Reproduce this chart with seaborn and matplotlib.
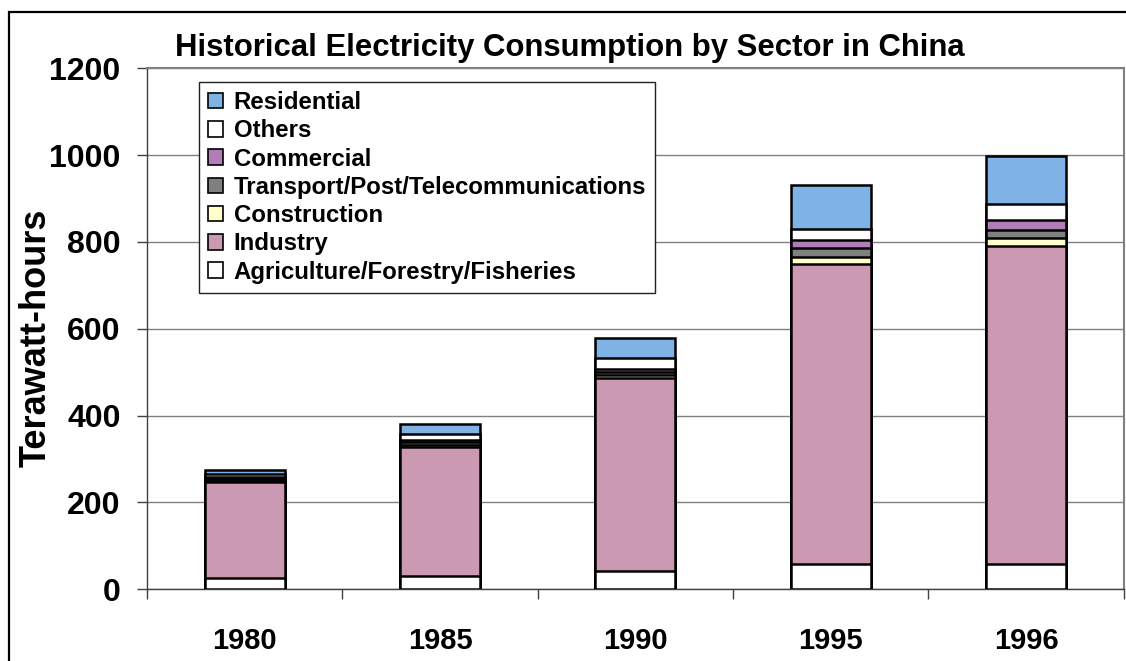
import matplotlib
matplotlib.use("Agg")
import matplotlib.pyplot as plt
from matplotlib.patches import Patch, Rectangle
import numpy as np
import pandas as pd
import seaborn as sns

years = ["1980", "1985", "1990", "1995", "1996"]

# Consumption by sector, terawatt-hours (stacked bottom to top)
agriculture = [26, 30, 41, 58, 58]
industry = [220, 298, 445, 691, 732]
construction = [4, 5, 7, 17, 18]
transport = [5, 6, 8, 20, 20]
commercial = [3, 5, 6, 18, 22]
others = [7, 14, 25, 25, 37]
residential = [10, 23, 46, 102, 112]

sectors = [
    "Agriculture/Forestry/Fisheries",
    "Industry",
    "Construction",
    "Transport/Post/Telecommunications",
    "Commercial",
    "Others",
    "Residential",
]
series = [agriculture, industry, construction, transport, commercial, others, residential]
colors = ["#FFFFFF", "#CC99B3", "#FFFFCC", "#808080", "#B07DB6", "#FFFFFF", "#7FB2E5"]

sns.set_theme(style="white")
plt.rcParams["font.family"] = ["Liberation Sans", "DejaVu Sans"]
plt.rcParams["font.weight"] = "bold"
plt.rcParams["text.color"] = "black"
plt.rcParams["xtick.color"] = "black"
plt.rcParams["ytick.color"] = "black"
plt.rcParams["axes.labelcolor"] = "black"

fig = plt.figure(figsize=(11.26, 6.61), dpi=100)
ax = fig.add_axes([0.1306, 0.1085, 0.8674, 0.7882])

df = pd.DataFrame({"year": years})
cum = np.zeros(len(years))
cums = []
for s in series:
    cum = cum + np.array(s, dtype=float)
    cums.append(cum.copy())

# Draw cumulative totals from the top layer down so each lower layer overlays the one above
for i in range(len(series) - 1, -1, -1):
    df["value"] = cums[i]
    sns.barplot(data=df, x="year", y="value", color=colors[i], width=0.41,
                edgecolor="black", linewidth=1.8, saturation=1, ax=ax,
                zorder=3 + (len(series) - i) * 0.1)

ax.set_xlim(-0.5, 4.5)
ax.set_ylim(0, 1200)
ax.set_yticks(range(0, 1201, 200))
ax.yaxis.grid(True, color="#808080", linewidth=1.0, zorder=0)
ax.set_axisbelow(True)

ax.set_xticks(range(len(years)))
ax.set_xticklabels(years, fontsize=21, fontweight="bold")
ax.set_xticks(np.arange(-0.5, 4.6, 1.0), minor=True)
ax.tick_params(axis="x", which="major", length=0, pad=27)
ax.tick_params(axis="x", which="minor", direction="out", length=7, width=1, color="#404040", bottom=True)
ax.tick_params(axis="y", which="major", direction="out", length=7, width=1, color="#404040",
               left=True, labelsize=23, pad=12)
for lbl in ax.get_yticklabels():
    lbl.set_fontweight("bold")

ax.set_xlabel("")
ax.set_ylabel("Terawatt-hours", fontsize=26, fontweight="bold")
ax.yaxis.set_label_coords(-0.096, 0.482)

for side in ["top", "right"]:
    ax.spines[side].set_color("#808080")
    ax.spines[side].set_linewidth(1.5)
ax.spines["left"].set_color("#404040")
ax.spines["left"].set_linewidth(1)
ax.spines["bottom"].set_color("#404040")
ax.spines["bottom"].set_linewidth(1)

handles = [Patch(facecolor=colors[i], edgecolor="black", linewidth=1.2, label=sectors[i])
           for i in range(len(series) - 1, -1, -1)]
leg = ax.legend(handles=handles, loc="upper left", bbox_to_anchor=(0.053, 0.974),
                borderaxespad=0, fancybox=False, frameon=True, edgecolor="#202020",
                framealpha=1, prop={"size": 17.3, "weight": "bold"},
                handlelength=0.62, handleheight=0.62, handletextpad=0.45,
                labelspacing=0.22, borderpad=0.38)
leg.get_frame().set_linewidth(1.0)
leg.set_zorder(10)

fig.text(0.506, 0.928, "Historical Electricity Consumption by Sector in China",
         ha="center", va="center", fontsize=22.4, fontweight="bold")

# Outer frame around the chart
fig.patches.append(Rectangle((9 / 1126, -0.05), 1.2, 1 - 12 / 661 + 0.05,
                             transform=fig.transFigure, fill=False,
                             edgecolor="black", linewidth=1.6, zorder=0))

fig.savefig("out.png", dpi=100)
